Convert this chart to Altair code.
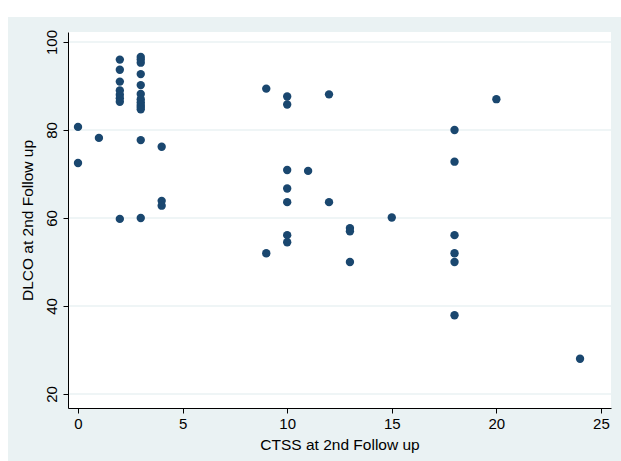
import altair as alt
import pandas as pd

ctss = [0, 0, 1,
        2, 2, 2, 2, 2, 2, 2, 2,
        3, 3, 3, 3, 3, 3, 3, 3, 3, 3, 3, 3, 3,
        4, 4, 4,
        9, 9,
        10, 10, 10, 10, 10, 10, 10,
        11,
        12, 12,
        13, 13, 13,
        15,
        18, 18, 18, 18, 18, 18,
        20,
        24]
dlco = [80.7, 72.5, 78.2,
        96.0, 93.7, 91.0, 89.0, 88.0, 87.2, 86.4, 59.8,
        96.6, 96.0, 95.3, 92.7, 90.2, 88.2, 87.0, 86.3, 85.7, 85.2, 84.7, 77.7, 60.0,
        76.2, 63.9, 62.8,
        89.4, 52.0,
        87.6, 85.8, 70.9, 66.7, 63.6, 56.1, 54.5,
        70.7,
        88.1, 63.6,
        57.7, 57.0, 50.0,
        60.1,
        80.0, 72.8, 56.1, 52.0, 50.0, 37.9,
        87.0,
        28.0]

x_ticks = [0, 5, 10, 15, 20, 25]
y_ticks = [20, 40, 60, 80, 100]

df = pd.DataFrame({"ctss": ctss, "dlco": dlco})
grid_df = pd.DataFrame({"v": y_ticks})
one = pd.DataFrame({"k": [0]})

FONT = "Liberation Sans"
BG = "#EAF2F3"
NAVY = "#1A476F"
W, H = 543, 376

xscale = alt.Scale(domain=[-0.478, 25.48], nice=False, zero=False)
yscale = alt.Scale(domain=[16.82, 102.27], nice=False, zero=False)

# outer graph region (light) and white plot region
outer = alt.Chart(one).mark_rect(color=BG, clip=False).encode(
    x=alt.value(-60), x2=alt.value(W + 10), y=alt.value(-15), y2=alt.value(H + 53)
)
inner = alt.Chart(one).mark_rect(color="white", clip=False).encode(
    x=alt.value(0), x2=alt.value(W), y=alt.value(0), y2=alt.value(H)
)

grid = alt.Chart(grid_df).mark_rule(color=BG, strokeWidth=1.5).encode(
    y=alt.Y("v:Q", scale=yscale)
)

points = alt.Chart(df).mark_circle(size=70, color=NAVY, opacity=1).encode(
    x=alt.X("ctss:Q", scale=xscale,
            axis=alt.Axis(title="CTSS at 2nd Follow up", values=x_ticks, grid=False,
                          domain=True, domainColor="black", domainWidth=1,
                          tickColor="black", tickSize=5, labelPadding=3,
                          labelFontSize=15, titleFontSize=15.5, titlePadding=6,
                          labelFont=FONT, titleFont=FONT, labelColor="black",
                          titleColor="black", titleFontWeight="normal", zindex=1)),
    y=alt.Y("dlco:Q", scale=yscale,
            axis=alt.Axis(title="DLCO at 2nd Follow up", values=y_ticks, grid=False,
                          domain=True, domainColor="black", domainWidth=1,
                          tickColor="black", tickSize=5, labelPadding=4,
                          labelAngle=270, labelAlign="center", labelBaseline="bottom",
                          labelFontSize=15, titleFontSize=15.5, titlePadding=9,
                          labelFont=FONT, titleFont=FONT, labelColor="black",
                          titleColor="black", titleFontWeight="normal", zindex=1)),
)

chart = alt.layer(outer, inner, grid, points).properties(
    width=W, height=H,
    autosize=alt.AutoSizeParams(type="none"),
    padding={"left": 68, "top": 32, "right": 10, "bottom": 53},
    background="white",
).configure_view(
    fill="white", stroke=None
)

chart.save("out.html", embed_options={"renderer": "svg", "actions": False})
